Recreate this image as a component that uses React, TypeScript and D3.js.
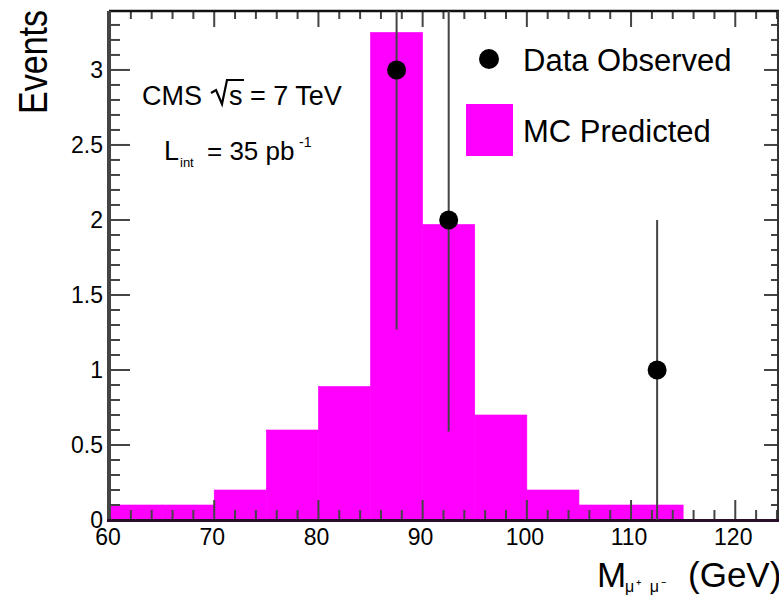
import React from 'react';
import * as d3 from 'd3';

// Histogram (MC predicted), 5 GeV bins
const binLow = [60, 65, 70, 75, 80, 85, 90, 95, 100, 105, 110];
const binWidth = 5;
const mcValues = [0.1, 0.1, 0.2, 0.6, 0.89, 3.25, 1.97, 0.7, 0.2, 0.1, 0.1];

// Observed data
const dataX = [87.5, 92.5, 112.5];
const dataY = [3, 2, 1];
const dataErr = [1.73, 1.41, 1];

// Axis ticks
const xTicks = [60, 70, 80, 90, 100, 110, 120];
const yTicks = [0, 0.5, 1, 1.5, 2, 2.5, 3];
const yTickLabels = ['0', '0.5', '1', '1.5', '2', '2.5', '3'];

const W = 779;
const H = 596;
const FONT = '"Liberation Sans", Arial, Helvetica, sans-serif';

export default function App() {
  const x = d3.scaleLinear().domain([60, 124.1]).range([110, 778]);
  const y = d3.scaleLinear().domain([0, 3.393]).range([520, 11]);
  const [x0, x1] = x.range();
  const [yb, yt] = y.range();

  const xMinor = d3.range(60, 124.1, 2).filter((v) => v % 10 !== 0);
  const yMinor = d3.range(0, 3.39, 0.1).filter((v) => Math.abs(v * 2 - Math.round(v * 2)) > 1e-6);

  const tickColor = '#444';

  return (
    <svg
      width={W}
      height={H}
      style={{ position: 'absolute', left: 0, top: 0, background: '#fff' }}
      fontFamily={FONT}
    >
      <defs>
        <clipPath id="frame">
          <rect x={x0} y={yt} width={x1 - x0} height={yb - yt} />
        </clipPath>
      </defs>
      <rect x={0} y={0} width={W} height={H} fill="#fff" />

      {/* MC histogram */}
      <g clipPath="url(#frame)">
        {binLow.map((lo, i) => (
          <rect
            key={i}
            x={x(lo)}
            y={y(mcValues[i])}
            width={x(lo + binWidth) - x(lo)}
            height={y(0) - y(mcValues[i])}
            fill="#ff00ff"
            stroke="#ff00ff"
            strokeWidth={0.6}
          />
        ))}
      </g>

      {/* ticks: bottom & top */}
      {xTicks.map((t) => (
        <g key={'xt' + t}>
          <line x1={x(t)} x2={x(t)} y1={yb} y2={yb - 20} stroke={tickColor} strokeWidth={2} />
          <line x1={x(t)} x2={x(t)} y1={yt} y2={yt + 16} stroke={tickColor} strokeWidth={2} />
        </g>
      ))}
      {xMinor.map((t) => (
        <g key={'xm' + t}>
          <line x1={x(t)} x2={x(t)} y1={yb} y2={yb - 10} stroke={tickColor} strokeWidth={2} />
          <line x1={x(t)} x2={x(t)} y1={yt} y2={yt + 8} stroke={tickColor} strokeWidth={2} />
        </g>
      ))}
      {/* ticks: left & right */}
      {yTicks.map((t) => (
        <g key={'yt' + t}>
          <line x1={x0} x2={x0 + 20} y1={y(t)} y2={y(t)} stroke={tickColor} strokeWidth={2} />
          <line x1={x1} x2={x1 - 14} y1={y(t)} y2={y(t)} stroke={tickColor} strokeWidth={2} />
        </g>
      ))}
      {yMinor.map((t) => (
        <g key={'ym' + t}>
          <line x1={x0} x2={x0 + 10} y1={y(t)} y2={y(t)} stroke={tickColor} strokeWidth={2} />
          <line x1={x1} x2={x1 - 7} y1={y(t)} y2={y(t)} stroke={tickColor} strokeWidth={2} />
        </g>
      ))}

      {/* frame */}
      <line x1={x0 - 1} x2={x1 + 1} y1={yt} y2={yt} stroke="#111" strokeWidth={2.5} />
      <line x1={x1} x2={x1} y1={yt} y2={yb} stroke="#333" strokeWidth={2} />
      <line x1={x0 - 1} x2={x0 - 1} y1={yt} y2={yb + 2} stroke="#444" strokeWidth={4} />
      <line x1={x0 - 3} x2={x1 + 1} y1={yb + 0.5} y2={yb + 0.5} stroke="#2a0f2a" strokeWidth={3} />

      {/* data error bars & markers */}
      <g clipPath="url(#frame)">
        {dataX.map((dx, i) => (
          <line
            key={'e' + i}
            x1={x(dx)}
            x2={x(dx)}
            y1={y(dataY[i] - dataErr[i])}
            y2={y(dataY[i] + dataErr[i])}
            stroke="#444"
            strokeWidth={2}
          />
        ))}
        {dataX.map((dx, i) => (
          <circle key={'c' + i} cx={x(dx)} cy={y(dataY[i])} r={9.5} fill="#000" />
        ))}
      </g>

      {/* x tick labels */}
      {xTicks.map((t) => (
        <text key={'xl' + t} x={x(t) - 2} y={545} fontSize={23} textAnchor="middle" fill="#000">
          {t}
        </text>
      ))}
      {/* y tick labels */}
      {yTicks.map((t, i) => (
        <text key={'yl' + t} x={103} y={y(t) + 8} fontSize={23} textAnchor="end" fill="#000">
          {yTickLabels[i]}
        </text>
      ))}

      {/* axis titles */}
      <text
        transform="translate(47,10) rotate(-90) scale(1,1.22)"
        fontSize={34}
        textAnchor="end"
        fill="#000"
      >
        Events
      </text>
      <text x={597} y={587} fontSize={35} fill="#000">M</text>
      <text x={625} y={592} fontSize={16} letterSpacing={2} fill="#000">μ⁺ μ⁻</text>
      <text x={688} y={587} fontSize={35} fill="#000">(GeV)</text>

      {/* CMS label */}
      <text x={142} y={105} fontSize={27} fill="#000">CMS</text>
      <path d="M211,93 L216,90 L222,104 L227,80 L244,80" fill="none" stroke="#000" strokeWidth={2.2} />
      <text x={229} y={105} fontSize={27} fill="#000">s</text>
      <text x={250} y={105} fontSize={27} fill="#000">= 7 TeV</text>

      <text x={164} y={160} fontSize={27} fill="#000">L</text>
      <text x={180} y={167} fontSize={13} fill="#000">int</text>
      <text x={207} y={160} fontSize={26} fill="#000">= 35 pb</text>
      <text x={299} y={147} fontSize={14} fill="#000">-1</text>

      {/* legend */}
      <circle cx={489} cy={59} r={10} fill="#000" />
      <text x={523} y={71} fontSize={31} fill="#000">Data Observed</text>
      <rect x={466} y={104} width={47} height={52} fill="#ff00ff" />
      <text x={523} y={142} fontSize={31} fill="#000">MC Predicted</text>
    </svg>
  );
}
